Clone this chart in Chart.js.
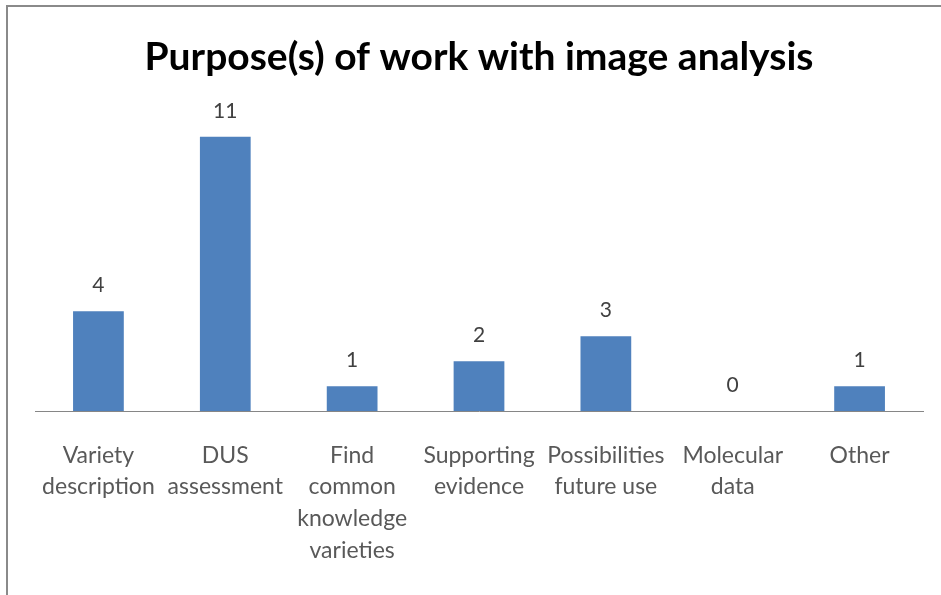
<!DOCTYPE html>
<html><head><meta charset="utf-8">
<script src="https://cdn.jsdelivr.net/npm/chart.js@4/dist/chart.umd.min.js"></script>
<style>html,body{margin:0;padding:0;background:#fff;}#wrap{width:941px;height:595px;position:relative;}</style>
</head><body><div id="wrap"><canvas id="c" width="941" height="595"></canvas></div>
<script>
const titleText = "Purpose(s) of work with image analysis";
const categories = [
  ["Variety","description"],
  ["DUS","assessment"],
  ["Find","common","knowledge","varieties"],
  ["Supporting","evidence"],
  ["Possibilities","future use"],
  ["Molecular","data"],
  ["Other"]
];
const values = [4, 11, 1, 2, 3, 0, 1];

const frame = {
  id: 'frame',
  beforeDraw(chart) {
    const ctx = chart.ctx;
    ctx.save();
    ctx.fillStyle = '#ffffff';
    ctx.fillRect(0, 0, chart.width, chart.height);
    ctx.strokeStyle = '#8a8a8a';
    ctx.lineWidth = 2;
    ctx.beginPath();
    ctx.moveTo(7, 595);
    ctx.lineTo(7, 6);
    ctx.lineTo(941, 6);
    ctx.stroke();
    ctx.restore();
  }
};
const valueLabels = {
  id: 'valueLabels',
  afterDatasetsDraw(chart) {
    const ctx = chart.ctx;
    const meta = chart.getDatasetMeta(0);
    ctx.save();
    ctx.font = '21px Lato, "Liberation Sans", sans-serif';
    ctx.fillStyle = '#404040';
    ctx.textAlign = 'center';
    ctx.textBaseline = 'middle';
    meta.data.forEach((bar, i) => {
      ctx.fillText(String(values[i]), bar.x, bar.y - 26);
    });
    ctx.restore();
  }
};

new Chart(document.getElementById('c'), {
  type: 'bar',
  data: {
    labels: categories,
    datasets: [{
      data: values,
      backgroundColor: '#4F81BD',
      borderWidth: 0,
      categoryPercentage: 1,
      barPercentage: 0.4
    }]
  },
  options: {
    responsive: false,
    animation: false,
    devicePixelRatio: 1,
    layout: { padding: { left: 35, right: 18, top: 0, bottom: 0 } },
    plugins: {
      legend: { display: false },
      tooltip: { enabled: false },
      title: {
        display: true,
        text: titleText,
        color: '#000000',
        font: { family: 'Lato, "Liberation Sans", sans-serif', size: 39, weight: 'bold', lineHeight: 1.2 },
        padding: { top: 34, bottom: 31 }
      }
    },
    scales: {
      x: {
        grid: { display: false, drawTicks: false },
        border: { display: true, color: '#868686', width: 1 },
        ticks: {
          color: '#595959',
          padding: 28,
          maxRotation: 0,
          autoSkip: false,
          font: { family: 'Lato, "Liberation Sans", sans-serif', size: 23, lineHeight: 1.39 }
        }
      },
      y: {
        display: false,
        min: 0,
        max: 12
      }
    }
  },
  plugins: [frame, valueLabels]
});
</script>
</body></html>
